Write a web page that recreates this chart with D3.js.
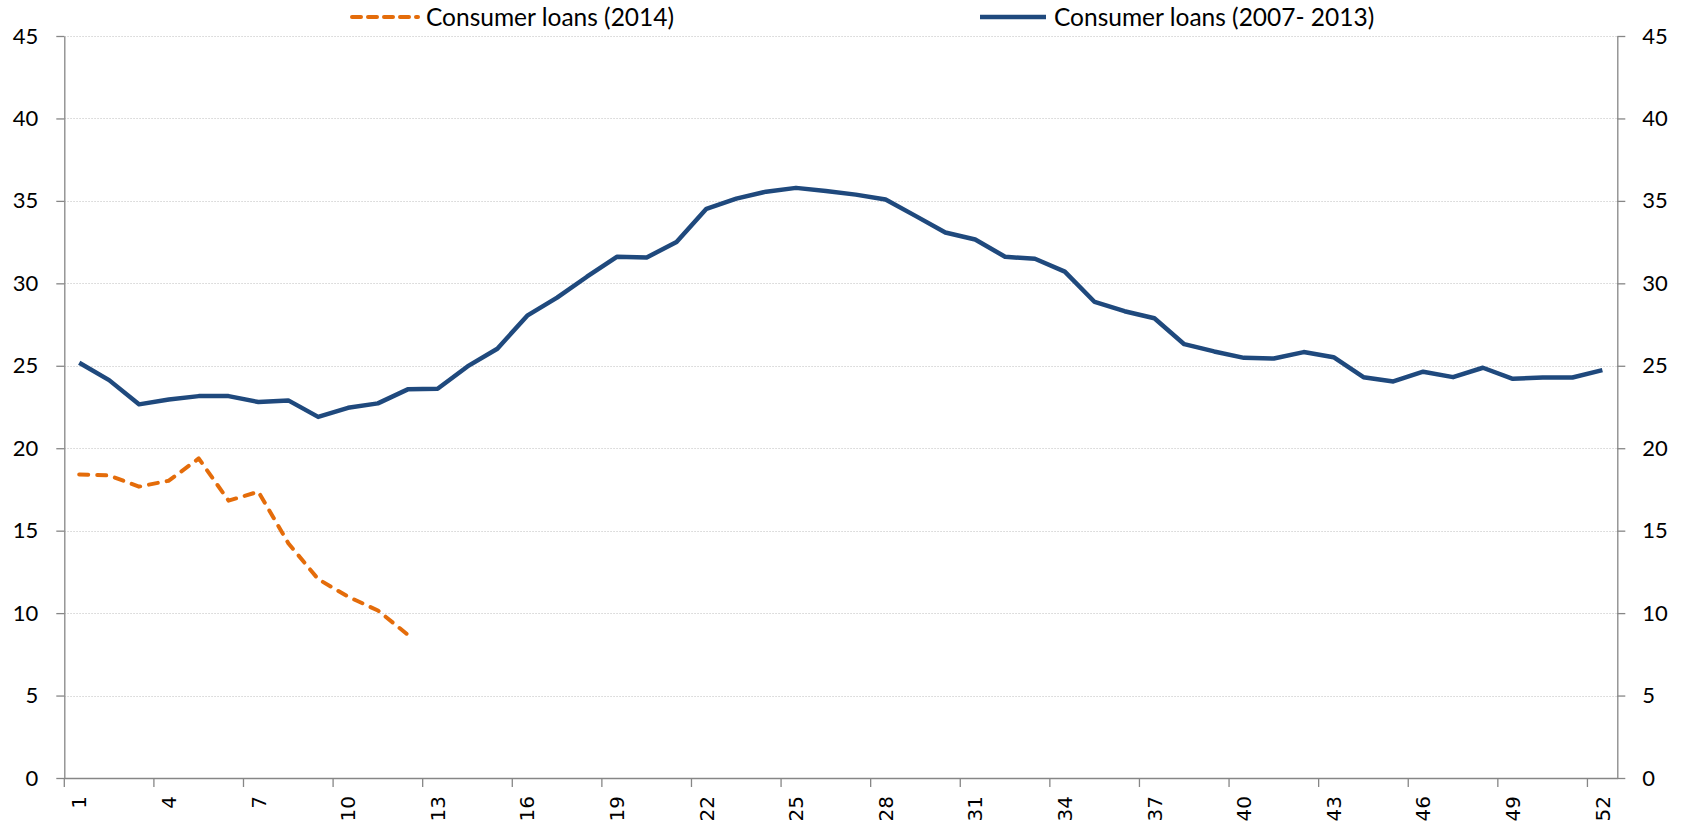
<!DOCTYPE html>
<html>
<head>
<meta charset="utf-8">
<script src="https://cdnjs.cloudflare.com/ajax/libs/d3/7.8.5/d3.min.js"></script>
<style>
  html, body { margin: 0; padding: 0; background: #fff; }
  .axis path, .axis line { stroke: #868686; stroke-width: 1.3px; }
  .grid line { stroke: #d4d4d4; stroke-width: 1px; stroke-dasharray: 1.5,1.5; }
  .y.axis text { font-family: Lato, sans-serif; font-size: 22px; fill: #000; }
  .x.axis text { font-family: "DejaVu Sans", sans-serif; font-size: 20px; fill: #000; }
  .legend text { font-family: Lato, sans-serif; font-size: 24.5px; fill: #000; }
  .line { fill: none; stroke-linejoin: round; }
</style>
</head>
<body>
<div id="line-graph"></div>
<script>
// week numbers on the category axis
const weeks = d3.range(1, 53);
const xTickWeeks = [1, 4, 7, 10, 13, 16, 19, 22, 25, 28, 31, 34, 37, 40, 43, 46, 49, 52];
const yTicks = [0, 5, 10, 15, 20, 25, 30, 35, 40, 45];

// Consumer loans, average 2007-2013 (52 weeks)
const loans2007to2013 = [
  25.18, 24.13, 22.66, 22.96, 23.16, 23.16, 22.80, 22.90, 21.90, 22.45,
  22.72, 23.57, 23.61, 24.96, 26.03, 28.04, 29.13, 30.40, 31.61, 31.57,
  32.50, 34.52, 35.14, 35.56, 35.79, 35.60, 35.38, 35.08, 34.09, 33.08,
  32.66, 31.61, 31.49, 30.71, 28.87, 28.31, 27.88, 26.31, 25.87, 25.48,
  25.44, 25.83, 25.52, 24.31, 24.05, 24.64, 24.31, 24.88, 24.21, 24.29,
  24.29, 24.74
];

// Consumer loans 2014 (first 12 weeks)
const loans2014 = [
  18.41, 18.35, 17.67, 18.03, 19.38, 16.82, 17.36, 14.24, 12.06, 11.00,
  10.16, 8.69
];

const seriesNames = ["Consumer loans (2014)", "Consumer loans (2007- 2013)"];

function initLineGraph(selector) {
  const width = 1690, height = 827;
  const margin = {top: 36, right: 72.7, bottom: 49, left: 64.3};
  const innerW = width - margin.left - margin.right;
  const innerH = height - margin.top - margin.bottom;

  const xScale = d3.scaleBand().domain(weeks).range([0, innerW]).padding(0);
  const bw = xScale.bandwidth();
  const yScale = d3.scaleLinear().domain([0, 45]).range([innerH, 0]);

  const svg = d3.select(selector).append("svg")
    .attr("width", width)
    .attr("height", height)
    .append("g")
    .attr("transform", `translate(${margin.left}, ${margin.top})`);

  // dotted gridlines
  svg.append("g").attr("class", "grid")
    .selectAll("line")
    .data(yTicks.filter(d => d > 0))
    .join("line")
    .attr("x1", 0).attr("x2", innerW)
    .attr("y1", d => Math.round(yScale(d)) + 0.5)
    .attr("y2", d => Math.round(yScale(d)) + 0.5);

  // left axis
  svg.append("g").attr("class", "y axis")
    .call(d3.axisLeft(yScale).tickValues(yTicks).tickSize(8).tickSizeOuter(0).tickPadding(18));

  // right axis
  svg.append("g").attr("class", "y axis")
    .attr("transform", `translate(${innerW}, 0)`)
    .call(d3.axisRight(yScale).tickValues(yTicks).tickSize(8).tickSizeOuter(0).tickPadding(17));

  // bottom axis: ticks at category boundaries, labels centred on the week
  const xAxis = svg.append("g").attr("class", "x axis")
    .attr("transform", `translate(0, ${innerH})`)
    .call(d3.axisBottom(xScale).tickValues(xTickWeeks).tickSize(9).tickSizeOuter(0));
  xAxis.selectAll(".tick line")
    .attr("x1", -bw / 2).attr("x2", -bw / 2);
  xAxis.selectAll(".tick text")
    .attr("transform", "rotate(-90)")
    .attr("x", -18)
    .attr("y", 0)
    .attr("dy", "0.36em")
    .attr("text-anchor", "end");

  const line = d3.line()
    .x((v, i) => xScale(weeks[i]) + bw / 2)
    .y(v => yScale(v));

  svg.append("path")
    .datum(loans2007to2013)
    .attr("class", "line")
    .attr("stroke", "#1f497d")
    .attr("stroke-width", 4.5)
    .attr("d", line);

  svg.append("path")
    .datum(loans2014)
    .attr("class", "line")
    .attr("stroke", "#e46c0a")
    .attr("stroke-width", 4)
    .attr("stroke-linecap", "round")
    .attr("stroke-dasharray", "9,9")
    .attr("d", line);

  // legend (top, outside plot)
  const legend = d3.select(selector).select("svg").append("g").attr("class", "legend");
  const items = [
    {name: seriesNames[0], color: "#e46c0a", dash: "9,7", cap: "round", x: 352, w: 4},
    {name: seriesNames[1], color: "#1f497d", dash: null, cap: "butt", x: 980, w: 4.5}
  ];
  items.forEach(it => {
    legend.append("line")
      .attr("x1", it.x).attr("x2", it.x + 66)
      .attr("y1", 17).attr("y2", 17)
      .attr("stroke", it.color)
      .attr("stroke-width", it.w)
      .attr("stroke-linecap", it.cap)
      .attr("stroke-dasharray", it.dash);
    legend.append("text")
      .attr("x", it.x + 74)
      .attr("y", 25.5)
      .text(it.name);
  });
}

document.addEventListener('DOMContentLoaded', function () {
  initLineGraph("#line-graph");
});
</script>
</body>
</html>
